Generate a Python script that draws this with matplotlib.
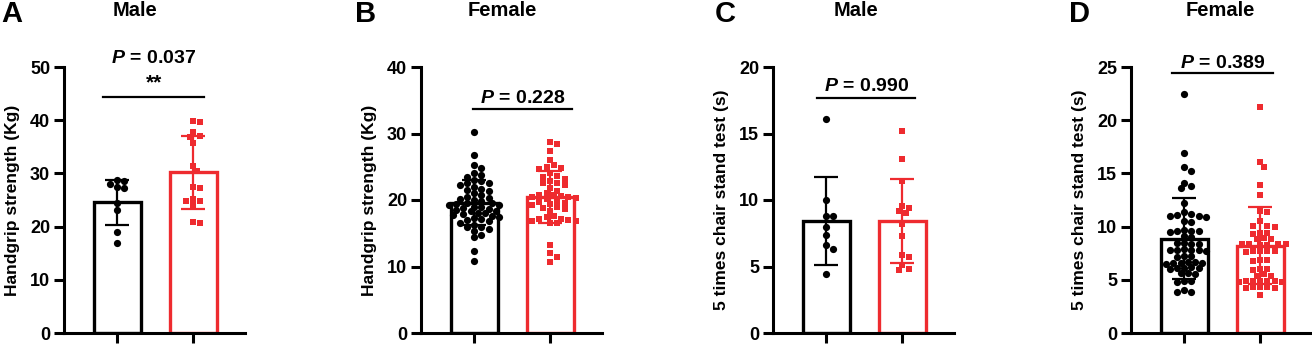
import numpy as np
import matplotlib.pyplot as plt

plt.rcParams['font.family'] = ['Liberation Sans', 'DejaVu Sans']
plt.rcParams['font.weight'] = 'bold'
plt.rcParams['mathtext.fontset'] = 'custom'
plt.rcParams['mathtext.it'] = 'Liberation Sans:italic:bold'
plt.rcParams['mathtext.rm'] = 'Liberation Sans:bold'
plt.rcParams['mathtext.bf'] = 'Liberation Sans:bold'

RED = '#EE2B2F'

# ---- data ----
a_black = [28.0, 28.6, 28.7, 27.2, 27.4, 24.5, 23.1, 19.0, 17.0]
a_red = [39.8, 39.7, 37.7, 35.8, 36.8, 37.1, 31.4, 30.5, 27.2, 27.5,
         24.8, 24.0, 24.8, 25.2, 20.6, 20.9]

b_black = [30.2, 26.7, 25.3, 24.8, 24.0, 23.8, 23.5, 23.0, 22.8, 22.6,
           22.5, 22.3, 22.0, 21.6, 21.5, 21.3, 21.0, 20.7, 20.5, 20.3,
           20.2, 20.0, 19.8, 19.6, 19.5, 19.4, 19.3, 19.2, 19.0, 18.9,
           18.8, 18.7, 18.5, 18.4, 18.3, 18.1, 18.0, 17.9, 17.8, 17.6,
           17.5, 17.3, 17.1, 17.0, 16.8, 16.6, 16.3, 16.0, 15.9, 15.6,
           15.3, 14.8, 14.4, 12.3, 10.8]
b_red = [28.7, 28.4, 27.4, 26.0, 25.3, 25.0, 24.8, 24.6, 24.0, 23.6,
         23.5, 23.2, 22.9, 22.6, 22.5, 22.2, 21.8, 21.4, 21.0, 20.8,
         20.7, 20.6, 20.5, 20.4, 20.3, 20.1, 19.9, 19.7, 19.5, 19.4,
         19.2, 19.0, 18.8, 18.6, 18.3, 17.6, 17.4, 17.2, 17.1, 17.0,
         16.9, 16.8, 16.6, 16.5, 13.2, 12.1, 11.5, 10.7]

c_black = [16.1, 10.0, 8.8, 8.8, 8.0, 7.4, 6.6, 6.3, 4.4]
c_red = [15.2, 13.1, 11.4, 9.55, 9.2, 9.4, 9.05, 8.2, 7.3, 5.9, 5.7,
         5.1, 4.7, 4.8]

d_black = [22.5, 16.9, 15.6, 15.2, 14.1, 13.8, 13.6, 12.2, 11.4,
           11.0, 11.1, 10.9, 11.0, 11.2, 10.5, 10.4,
           9.6, 9.7, 9.6, 9.5, 9.6, 9.0, 9.1,
           8.5, 8.4, 8.5, 8.4, 7.8, 7.9, 7.8, 7.7, 7.8, 7.8,
           7.2, 7.1, 7.2, 6.6, 6.7, 6.6, 6.6, 6.5, 6.7,
           6.1, 6.0, 6.1, 6.1, 6.2, 5.6, 5.5, 5.6,
           4.9, 4.8, 4.9, 3.9, 3.9, 4.0]
d_red = [21.2, 16.1, 15.6, 13.9, 13.0, 11.5, 11.4, 10.5, 10.1, 10.1,
         10.0, 9.4, 9.4, 9.3, 8.9, 8.8, 8.8, 8.4, 8.4, 8.4, 8.3, 8.4,
         8.3, 7.7, 7.7, 7.6, 7.7, 7.7, 6.9, 6.9, 6.8, 6.0, 6.0, 5.9,
         5.5, 5.4, 5.4, 4.9, 4.9, 4.8, 4.9, 4.9, 4.8, 4.9, 4.3, 4.2,
         4.3, 4.3, 4.2, 3.6]

means = [[24.6, 30.2], [19.6, 20.5], [8.45, 8.45], [8.85, 8.2]]
sds = [[4.25, 6.8], [3.4, 3.9], [3.3, 3.15], [3.8, 3.6]]

points = [[a_black, a_red], [b_black, b_red], [c_black, c_red], [d_black, d_red]]
ymax = [50, 40, 20, 25]
ystep = [10, 10, 5, 5]
ylabels = ['Handgrip strength (Kg)', 'Handgrip strength (Kg)',
           '5 times chair stand test (s)', '5 times chair stand test (s)']
titles = ['Male', 'Female', 'Male', 'Female']
letters = ['A', 'B', 'C', 'D']
p_texts = ['0.037', '0.228', '0.990', '0.389']
stars = ['**', '', '', '']

# layout (pixels)
W, H = 1312, 347
ax_left = [64, 421, 773, 1131]
ax_w = 181
ax_bottom = 14
ax_h = 266
unit_px = 76.0
letter_x = [1, 355, 715, 1069]
title_x = [135, 502, 856, 1220]
sig_line = [(-0.185, 1.14, 44.4), (-0.01, 1.29, 33.7),
            (-0.12, 1.17, 17.7), (-0.16, 1.17, 24.4)]
p_y = [51.6, 35.2, 18.5, 25.35]
star_y = [47.0, None, None, None]


def swarm(vals, ymx, d=7.2):
    ys = np.array(vals) * ax_h / ymx
    offs = np.zeros(len(vals))
    placed = []
    for i in np.argsort(-ys):
        k = 0
        while True:
            cands = [0.0] if k == 0 else [k * d / 2, -k * d / 2]
            ok = None
            for c in cands:
                if all((c - px) ** 2 + (ys[i] - py) ** 2 >= (0.8 * d) ** 2
                       for px, py in placed):
                    ok = c
                    break
            if ok is not None:
                offs[i] = ok
                placed.append((ok, ys[i]))
                break
            k += 1
    return offs / unit_px


fig = plt.figure(figsize=(W / 100, H / 100), dpi=100)

for p in range(4):
    ax = fig.add_axes([ax_left[p] / W, ax_bottom / H, ax_w / W, ax_h / H])
    ax.set_xlim(-0.7, 1.68)
    ax.set_ylim(0, ymax[p])
    for g, col in enumerate(['black', RED]):
        ax.bar(g, means[p][g], width=0.62, facecolor='white', edgecolor=col,
               linewidth=2.4, zorder=1)
        vals = points[p][g]
        xs = g + swarm(vals, ymax[p])
        ax.plot(xs, vals, linestyle='none', marker='o' if g == 0 else 's',
                color=col, markersize=5.2 if g == 0 else 4.6,
                markeredgewidth=0, zorder=3)
        ax.errorbar(g, means[p][g], yerr=sds[p][g], color=col, elinewidth=1.6,
                    capsize=8.5, capthick=1.6, zorder=4)
    x0, x1, ly = sig_line[p]
    ax.plot([x0, x1], [ly, ly], color='black', linewidth=1.6, clip_on=False)
    ax.text((x0 + x1) / 2, p_y[p], r'$P$ = ' + p_texts[p], ha='center',
            va='center', fontsize=14, fontweight='bold', clip_on=False)
    if star_y[p] is not None:
        ax.text((x0 + x1) / 2, star_y[p], stars[p], ha='center', va='center',
                fontsize=15, fontweight='bold')

    ax.set_yticks(np.arange(0, ymax[p] + 1, ystep[p]))
    ax.set_xticks([0, 1])
    ax.set_xticklabels(['', ''])
    ax.spines['top'].set_visible(False)
    ax.spines['right'].set_visible(False)
    for s in ['left', 'bottom']:
        ax.spines[s].set_linewidth(2.2)
    ax.tick_params(axis='both', width=2.2, length=7, labelsize=13, pad=3)
    for lab in ax.get_yticklabels():
        lab.set_fontweight('bold')
    ax.set_ylabel(ylabels[p], fontsize=12.5, fontweight='bold', labelpad=7)

    fig.text(letter_x[p] / W, 1 - 14 / H, letters[p], fontsize=21,
             fontweight='bold', ha='left', va='center')
    fig.text(title_x[p] / W, 1 - 11 / H, titles[p], fontsize=14.5,
             fontweight='bold', ha='center', va='center')

fig.savefig('out.png', dpi=100)
